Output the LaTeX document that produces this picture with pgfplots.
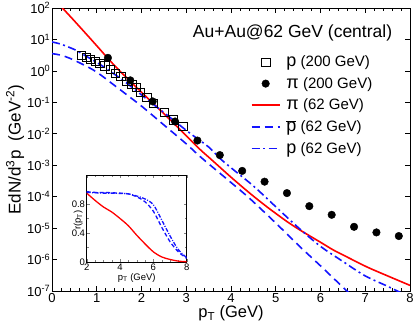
\documentclass[border=0pt]{standalone}
\usepackage{fontspec}
\setmainfont{Liberation Sans}
\usepackage{pgfplots}
\pgfplotsset{compat=1.18}
\definecolor{myred}{RGB}{255,0,0}
\definecolor{myblue}{RGB}{20,20,255}
\pgfplotsset{
 mylegline/.style={legend image code/.code={\draw[##1] (0pt,0pt) -- (28pt,0pt);}},
 mylegmark/.style={legend image code/.code={\draw[mark repeat=2,mark phase=2,##1] plot coordinates {(0pt,0pt) (14pt,0pt) (28pt,0pt)};}},
}
\begin{document}
\begin{tikzpicture}
\useasboundingbox (0,0) rectangle (415pt,325pt);
\begin{axis}[
  at={(52pt,34pt)}, anchor=south west,
  scale only axis, width=358pt, height=283pt,
  xmin=0, xmax=8, ymin=1e-7, ymax=1e2,
  ymode=log, log basis y=10,
  xtick={0,1,...,8}, minor x tick num=4,
  ytick={1e-7,1e-6,1e-5,1e-4,1e-3,1e-2,1e-1,1,10,100},
  yticklabel={10\textsuperscript{\pgfmathparse{int(round(\tick))}\pgfmathresult}},
  /pgf/number format/assume math mode=true,
  tick label style={font=\fontsize{13}{13}\selectfont},
  xticklabel style={inner ysep=2pt},
  yticklabel style={inner xsep=1.5pt},
  axis line style={line width=0.8pt},
  tick style={line width=0.6pt, black},
  major tick length=5pt, minor tick length=3pt,
  xlabel={p\textsubscript{T} (GeV)},
  xlabel style={font=\fontsize{16.5}{16.5}\selectfont, at={(axis description cs:0.5,-0.08)}, anchor=center},
  ylabel={EdN/d\textsuperscript{3}p\ \ (GeV\textsuperscript{-2})},
  ylabel style={font=\fontsize{17}{17}\selectfont, at={(axis description cs:-0.103,0.5)}, anchor=center, rotate=0},
  legend style={draw=none, fill=none, at={(axis description cs:0.555,0.838)}, anchor=north west,
    font=\fontsize{15}{15}\selectfont, row sep=5pt, column sep=4pt, inner sep=0pt},
  legend cell align=left,
]
\node[anchor=east, font=\fontsize{17.5}{17.5}\selectfont] at (axis description cs:0.96,0.912) {Au+Au@62 GeV (central)};

% p (200 GeV) squares
\addplot[only marks, mark=square, mark size=4.2pt, black, line width=0.7pt, mylegmark]
coordinates {
(0.66,3.1) (0.77,2.7) (0.86,2.36) (0.97,1.98) (1.07,1.76) (1.18,1.44)
(1.30,1.13) (1.42,0.845) (1.54,0.66) (1.67,0.456) (1.78,0.377) (1.88,0.30)
(1.98,0.21) (2.12,0.146) (2.26,0.094) (2.51,0.048) (2.71,0.0275) (2.92,0.017)
};
\addlegendentry{{\fontsize{18}{18}\selectfont p} (200 GeV)}

% pi (200 GeV) circles
\addplot[only marks, mark=*, mark size=3.8pt, black, mylegmark]
coordinates {
(1.25,2.6) (1.75,0.5) (2.25,0.107) (2.75,0.0246) (3.25,0.0061) (3.75,2.1e-3)
(4.25,6.6e-4) (4.75,3.0e-4) (5.25,1.3e-4) (5.75,5.0e-5) (6.25,2.65e-5)
(6.75,1.1e-5) (7.25,7.3e-6) (7.75,5.6e-6)
};
\addlegendentry{{\fontsize{18}{18}\selectfont π} (200 GeV)}

% pi (62 GeV) red
\addplot[myred, line width=1.6pt, smooth, no marks, mylegline]
coordinates {
(0.0,224) (0.2,112) (0.5,38.9) (1.0,6.31) (1.26,2.40) (1.5,1.047) (2.0,0.209)
(2.5,0.0437) (3.0,0.00871) (3.31,0.00316) (3.53,0.00166) (4.0,4.17e-4)
(4.42,1.29e-4) (4.8,4.79e-5) (5.24,1.66e-5) (5.54,8.71e-6) (6.0,3.55e-6)
(6.29,2.0e-6) (6.5,1.41e-6) (7.03,5.89e-7) (7.5,3.02e-7) (8.0,1.51e-7)
};
\addlegendentry{{\fontsize{18}{18}\selectfont π} (62 GeV)}

% pbar (62 GeV) dashed
\addplot[myblue, line width=1.6pt, smooth, no marks, dash pattern=on 8pt off 5pt, mylegline]
coordinates {
(0.0,3.55) (0.2,3.16) (0.4,2.51) (0.7,1.58) (1.0,0.912) (1.45,0.302) (2.0,0.0759)
(2.5,0.0191) (3.0,4.79e-3) (3.33,1.78e-3) (4.0,2.82e-4) (4.42,8.71e-5)
(5.0,1.45e-5) (5.54,2.57e-6) (6.0,6.31e-7) (6.59,1.0e-7) (7.0,2.82e-8)
};
\addlegendentry{$\overline{\mbox{\fontsize{18}{18}\selectfont p}}$ (62 GeV)}

% p (62 GeV) dash-dot
\addplot[myblue, line width=1.6pt, smooth, no marks, dash pattern=on 8pt off 3.5pt on 2pt off 3.5pt, mylegline]
coordinates {
(0.0,8.32) (0.2,7.08) (0.5,4.79) (0.7,3.31) (1.0,1.86) (1.26,1.07) (1.67,0.407)
(2.19,0.105) (2.71,0.0275) (3.08,0.0105) (3.5,3.80e-3) (3.75,1.66e-3)
(4.0,8.32e-4) (4.5,2.19e-4) (5.0,4.79e-5) (5.5,1.05e-5) (6.0,2.63e-6)
(6.5,8.71e-7) (7.0,3.02e-7) (7.5,1.41e-7) (8.0,6.31e-8)
};
\addlegendentry{{\fontsize{18}{18}\selectfont p} (62 GeV)}
\end{axis}

% inset
\begin{axis}[
  at={(86.7pt,63pt)}, anchor=south west,
  scale only axis, width=100pt, height=87pt,
  xmin=2, xmax=8, ymin=0, ymax=1.2,
  xtick={2,4,6,8}, ytick={0,0.4,0.8},
  minor x tick num=3, minor y tick num=1,
  axis background/.style={fill=white},
  /pgf/number format/assume math mode=true,
  tick label style={font=\fontsize{9.5}{9.5}\selectfont},
  xticklabel style={inner ysep=1.5pt},
  yticklabel style={inner xsep=1.5pt},
  major tick length=3pt, minor tick length=2pt,
  axis line style={line width=0.7pt},
  xlabel={p\textsubscript{T} (GeV)},
  xlabel style={font=\fontsize{9.5}{9.5}\selectfont, at={(axis description cs:0.5,-0.18)}, anchor=center},
  ylabel={r(p\textsubscript{T})},
  ylabel style={font=\fontsize{9.5}{9.5}\selectfont, at={(axis description cs:-0.085,0.48)}, anchor=center, rotate=0},
]
\addplot[myred, line width=1.3pt, smooth, no marks] coordinates {
(2.0,0.95) (2.5,0.85) (3.0,0.76) (3.5,0.69) (4.0,0.60) (4.5,0.50) (5.0,0.37)
(5.5,0.25) (6.0,0.14) (6.5,0.07) (7.0,0.035) (7.5,0.012) (8.0,0.004)
};
\addplot[myblue, line width=1.3pt, smooth, no marks, dash pattern=on 4pt off 2.5pt] coordinates {
(2.0,0.97) (2.5,0.96) (3.0,0.96) (3.5,0.955) (4.0,0.95) (4.5,0.94) (5.0,0.90)
(5.5,0.83) (6.0,0.70) (6.5,0.48) (7.0,0.28) (7.5,0.14) (8.0,0.05)
};
\addplot[myblue, line width=1.3pt, smooth, no marks, dash pattern=on 4pt off 1.5pt on 1pt off 1.5pt] coordinates {
(2.0,0.96) (2.5,0.955) (3.0,0.95) (3.5,0.95) (4.0,0.945) (4.5,0.94) (5.0,0.91)
(5.5,0.87) (6.0,0.79) (6.5,0.58) (7.0,0.36) (7.5,0.17) (8.0,0.06)
};
\end{axis}
\end{tikzpicture}
\end{document}
